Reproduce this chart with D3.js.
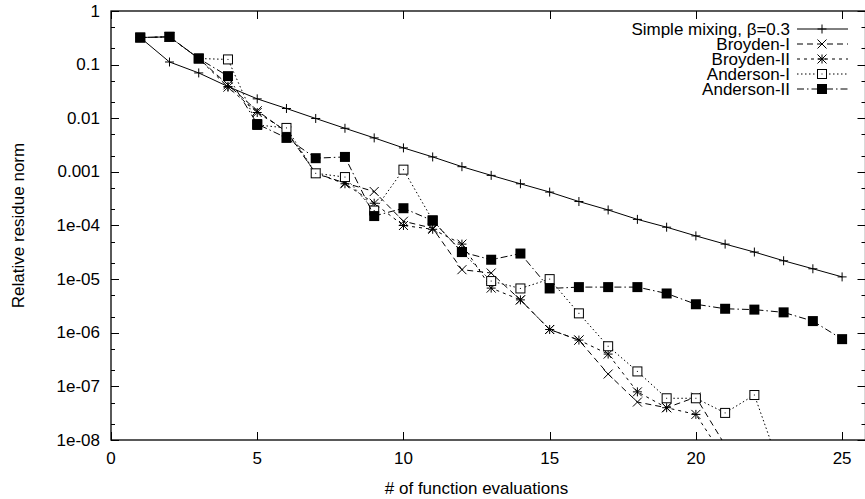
<!DOCTYPE html>
<html>
<script src="https://d3js.org/d3.v7.min.js"></script>

<head>
    <style>
        body {
            margin: 0;
            background-color: white;
        }

        svg {
            display: block;
            font-family: "Liberation Sans", Arial, Helvetica, sans-serif;
        }
    </style>
</head>

<body>
    <svg width="865" height="499"></svg>
</body>
<script>
    const width = 865,
        height = 499;
    const svg = d3.select("svg");

    // iteration numbers (x)
    const ITER = [1, 2, 3, 4, 5, 6, 7, 8, 9, 10, 11, 12, 13, 14, 15, 16, 17, 18, 19, 20, 21, 22, 23, 24, 25];

    // (values under 1e-08 continue below the frame)
    const SIMPLE = [0.32, 0.112, 0.07, 0.039, 0.023, 0.0152, 0.0099, 0.0065, 0.0043, 0.0028, 0.0019, 0.00125,
        0.00086, 0.0006, 0.00042, 0.00028, 0.000195, 0.00013, 0.000093, 0.000064, 0.000045, 0.000032,
        0.000022, 0.0000156, 0.000011];
    const BROYDEN1 = [0.32, 0.33, 0.13, 0.042, 0.0138, 0.0056, 0.00094, 0.00062, 0.00043, 0.00012, 0.000089,
        0.000015, 0.000013, 0.0000041, 0.00000115, 0.00000073, 0.00000017, 0.000000051, 0.00000004,
        0.000000063, 0.000000008];
    const BROYDEN2 = [0.32, 0.33, 0.13, 0.038, 0.0128, 0.0058, 0.00094, 0.0006, 0.00026, 0.0001, 0.000085,
        0.000045, 0.0000068, 0.0000041, 0.00000115, 0.00000073, 0.0000004, 0.000000079, 0.00000004,
        0.00000003, 0.0000000044];
    const ANDERSON1 = [0.32, 0.33, 0.13, 0.125, 0.0075, 0.0066, 0.00094, 0.0008, 0.00019, 0.0011, 0.000125,
        0.000032, 0.0000092, 0.0000067, 0.00001, 0.0000023, 0.00000056, 0.00000019, 0.00000006,
        0.00000006, 0.000000032, 0.000000069, 0.000000002];
    const ANDERSON2 = [0.32, 0.33, 0.13, 0.061, 0.0078, 0.0043, 0.0018, 0.0019, 0.00015, 0.00021, 0.000123,
        0.000032, 0.000023, 0.00003, 0.0000067, 0.0000071, 0.0000071, 0.0000071, 0.0000054, 0.0000034,
        0.0000028, 0.0000027, 0.0000024, 0.00000165, 0.00000076];

    const SERIES_NAMES = ["Simple mixing, \u03b2=0.3", "Broyden-I", "Broyden-II", "Anderson-I", "Anderson-II"];
    const SERIES_VALUES = [SIMPLE, BROYDEN1, BROYDEN2, ANDERSON1, ANDERSON2];

    const X_TICKS = [0, 5, 10, 15, 20, 25];
    const Y_TICKS = [1, 0.1, 0.01, 0.001, 1e-4, 1e-5, 1e-6, 1e-7, 1e-8];
    const Y_TICK_LABELS = ["1", "0.1", "0.01", "0.001", "1e-04", "1e-05", "1e-06", "1e-07", "1e-08"];

    const STYLES = [
        { dash: null, marker: "plus" },
        { dash: "6,4", marker: "cross" },
        { dash: "3,4", marker: "star" },
        { dash: "1.5,2.5", marker: "box" },
        { dash: "7,3,1.5,3", marker: "fbox" },
    ];

    const plot = { left: 111, right: 865.5, top: 11, bottom: 440 };
    const xScale = d3.scaleLinear().domain([0, 25.8]).range([plot.left, plot.right]);
    const yScale = d3.scaleLog().domain([1e-8, 1]).range([plot.bottom, plot.top]);

    function marker(g, type, x, y) {
        const s = 4.5;
        if (type == "plus" || type == "star") {
            g.append("path").attr("d", `M${x - s},${y}H${x + s}M${x},${y - s}V${y + s}`)
                .attr("stroke", "black").attr("stroke-width", 1);
        }
        if (type == "cross" || type == "star") {
            g.append("path").attr("d", `M${x - s},${y - s}L${x + s},${y + s}M${x - s},${y + s}L${x + s},${y - s}`)
                .attr("stroke", "black").attr("stroke-width", 1);
        }
        if (type == "box") {
            g.append("rect").attr("x", x - 4.5).attr("y", y - 4.5).attr("width", 9).attr("height", 9)
                .attr("fill", "white").attr("stroke", "black").attr("stroke-width", 1);
            g.append("rect").attr("x", x - 0.5).attr("y", y - 0.5).attr("width", 1).attr("height", 1)
                .attr("fill", "black");
        }
        if (type == "fbox") {
            g.append("rect").attr("x", x - 5).attr("y", y - 5).attr("width", 10).attr("height", 10)
                .attr("fill", "black");
        }
    }

    function draw() {
        svg.append("clipPath").attr("id", "clip")
            .append("rect")
            .attr("x", plot.left).attr("y", plot.top)
            .attr("width", plot.right - plot.left).attr("height", plot.bottom - plot.top);

        // ticks (inward, mirrored on top and right)
        const tickG = svg.append("g").attr("stroke", "black").attr("stroke-width", 1);
        X_TICKS.forEach(t => {
            const x = Math.round(xScale(t)) + 0.5;
            tickG.append("line").attr("x1", x).attr("x2", x).attr("y1", plot.bottom).attr("y2", plot.bottom - 8);
            tickG.append("line").attr("x1", x).attr("x2", x).attr("y1", plot.top).attr("y2", plot.top + 8);
        });
        Y_TICKS.forEach(t => {
            const y = Math.round(yScale(t)) + 0.5;
            tickG.append("line").attr("x1", plot.left).attr("x2", plot.left + 8).attr("y1", y).attr("y2", y);
            tickG.append("line").attr("x1", plot.right).attr("x2", plot.right - 8).attr("y1", y).attr("y2", y);
            if (t > 1e-8) {
                [0.5 * t, 0.2 * t].forEach(m => {
                    const ym = Math.round(yScale(m)) + 0.5;
                    tickG.append("line").attr("x1", plot.left).attr("x2", plot.left + 4).attr("y1", ym).attr("y2", ym);
                    tickG.append("line").attr("x1", plot.right).attr("x2", plot.right - 4).attr("y1", ym).attr("y2", ym);
                });
            }
        });

        // frame
        svg.append("rect")
            .attr("x", plot.left).attr("y", plot.top)
            .attr("width", plot.right - plot.left).attr("height", plot.bottom - plot.top)
            .attr("fill", "none").attr("stroke", "black").attr("stroke-width", 1.3);

        // tick labels
        X_TICKS.forEach(t => {
            svg.append("text")
                .attr("x", xScale(t)).attr("y", 464)
                .attr("text-anchor", "middle")
                .attr("font-size", "17px")
                .text(t);
        });
        Y_TICKS.forEach((t, i) => {
            svg.append("text")
                .attr("x", 100).attr("y", yScale(t))
                .attr("text-anchor", "end")
                .attr("dominant-baseline", "central")
                .attr("font-size", "17px")
                .text(Y_TICK_LABELS[i]);
        });

        // axis titles
        svg.append("text")
            .attr("x", (plot.left + 842) / 2).attr("y", 494)
            .attr("text-anchor", "middle")
            .attr("font-size", "17px")
            .text("# of function evaluations");
        svg.append("text")
            .attr("transform", `translate(24,${(plot.top + plot.bottom) / 2}) rotate(-90)`)
            .attr("text-anchor", "middle")
            .attr("font-size", "17px")
            .text("Relative residue norm");

        // series
        const line = d3.line()
            .x(d => xScale(d.x))
            .y(d => yScale(d.y));
        SERIES_VALUES.forEach((vals, k) => {
            const pts = vals.map((v, i) => ({ x: ITER[i], y: v }));
            svg.append("path")
                .attr("clip-path", "url(#clip)")
                .attr("fill", "none")
                .attr("stroke", "black")
                .attr("stroke-width", 1)
                .attr("stroke-dasharray", STYLES[k].dash)
                .attr("d", line(pts));
            const mg = svg.append("g");
            pts.forEach(p => {
                if (p.y >= 1e-8) {
                    marker(mg, STYLES[k].marker, xScale(p.x), yScale(p.y));
                }
            });
        });

        // legend
        SERIES_NAMES.forEach((name, k) => {
            const y = 29 + 15 * k;
            svg.append("text")
                .attr("x", 790).attr("y", y)
                .attr("text-anchor", "end")
                .attr("dominant-baseline", "central")
                .attr("font-size", "17px")
                .text(name);
            svg.append("line")
                .attr("x1", 797).attr("x2", 848)
                .attr("y1", y).attr("y2", y)
                .attr("stroke", "black")
                .attr("stroke-width", 1)
                .attr("stroke-dasharray", STYLES[k].dash);
            marker(svg.append("g"), STYLES[k].marker, 822, y);
        });
    }

    draw();
</script>

</html>
